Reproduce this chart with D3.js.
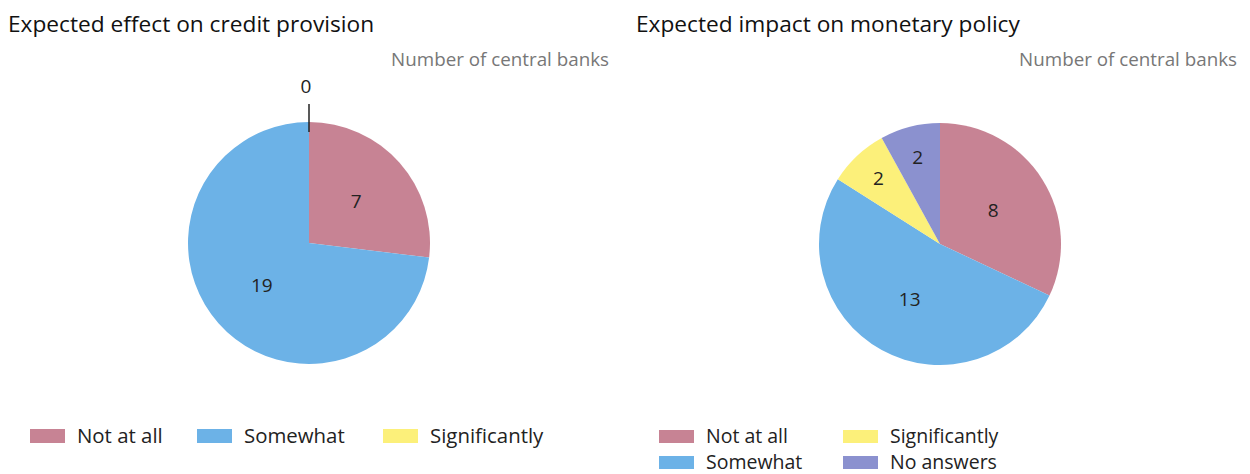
<!DOCTYPE html>
<html><head><meta charset="utf-8">
<script src="https://cdn.jsdelivr.net/npm/d3@7"></script>
<style>body{margin:0;background:#fff;} svg{display:block;font-family:"Open Sans","Noto Sans",sans-serif;}</style>
</head><body><svg id="c" width="1250" height="474"></svg>
<script>
const categories1 = ["Not at all", "Somewhat", "Significantly"];
const values1 = [7, 19, 0];
const categories2 = ["Not at all", "Somewhat", "Significantly", "No answers"];
const values2 = [8, 13, 2, 2];
const colors = {"Not at all":"#c78394","Somewhat":"#6cb2e7","Significantly":"#fcf07a","No answers":"#8b91cf"};
const titles = ["Expected effect on credit provision", "Expected impact on monetary policy"];
const unitLabel = "Number of central banks";

const svg = d3.select("#c");
const R = 121;

function drawPie(g, cats, vals, cx, cy) {
  const data = cats.map((c,i)=>({cat:c, v:vals[i]}));
  const pie = d3.pie().value(d=>d.v).sort(null);
  const arcs = pie(data);
  const arc = d3.arc().innerRadius(0).outerRadius(R);
  const pg = g.append("g").attr("transform",`translate(${cx},${cy})`);
  pg.selectAll("path").data(arcs.filter(a=>a.data.v>0)).join("path")
    .attr("d",arc).attr("fill",d=>colors[d.data.cat]);
  const total = d3.sum(vals);
  arcs.forEach(a=>{
    if (a.data.v === 0) {
      const ang = a.startAngle;
      const p1 = [Math.sin(ang)*(R-10), -Math.cos(ang)*(R-10)];
      const p2 = [Math.sin(ang)*(R+18), -Math.cos(ang)*(R+18)];
      pg.append("line").attr("x1",p1[0]).attr("y1",p1[1]).attr("x2",p2[0]).attr("y2",p2[1])
        .attr("stroke","#222").attr("stroke-width",1.5);
      pg.append("text").attr("x",Math.sin(ang)*(R+36)-3).attr("y",-Math.cos(ang)*(R+36)+7)
        .attr("text-anchor","middle").attr("font-size",19).attr("fill","#222").text(a.data.v);
    } else {
      const small = a.data.v/total < 0.1;
      const lr = small ? 90 : 63;
      const m = (a.startAngle+a.endAngle)/2;
      pg.append("text").attr("x",Math.sin(m)*lr).attr("y",-Math.cos(m)*lr+7)
        .attr("text-anchor","middle").attr("font-size",19).attr("fill","#222").text(a.data.v);
    }
  });
}

// Panel 1
const g1 = svg.append("g");
g1.append("text").attr("x",8).attr("y",32).attr("font-size",22.7).attr("fill","#111").text(titles[0]);
g1.append("text").attr("x",609).attr("y",66).attr("text-anchor","end").attr("font-size",18.8).attr("fill","#777").text(unitLabel);
drawPie(g1, categories1, values1, 309, 243);
const leg1x = [30, 197, 383];
categories1.forEach((c,i)=>{
  g1.append("rect").attr("x",leg1x[i]).attr("y",429).attr("width",35).attr("height",14).attr("fill",colors[c]);
  g1.append("text").attr("x",leg1x[i]+47).attr("y",443).attr("font-size",20.4).attr("fill","#222").text(c);
});

// Panel 2
const g2 = svg.append("g");
g2.append("text").attr("x",636).attr("y",32).attr("font-size",22.7).attr("fill","#111").text(titles[1]);
g2.append("text").attr("x",1237).attr("y",66).attr("text-anchor","end").attr("font-size",18.8).attr("fill","#777").text(unitLabel);
drawPie(g2, categories2, values2, 940, 244);
const leg2 = [[659,430],[659,456],[843,430],[843,456]];
categories2.forEach((c,i)=>{
  const [x,y] = leg2[i];
  g2.append("rect").attr("x",x).attr("y",y).attr("width",35).attr("height",13).attr("fill",colors[c]);
  g2.append("text").attr("x",x+47).attr("y",y+13).attr("font-size",19.5).attr("fill","#222").text(c);
});
</script></body></html>
